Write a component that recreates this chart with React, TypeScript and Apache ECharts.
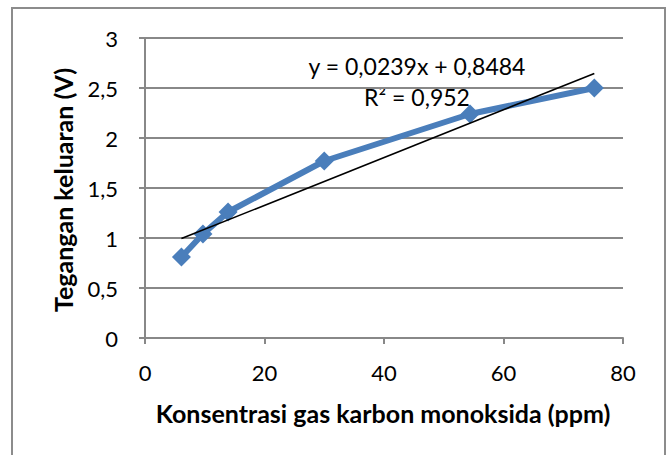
import React, { useEffect, useRef } from "react";
import * as echarts from "echarts";

const concentration = [6.1, 9.7, 13.9, 30.0, 54.4, 75.2];
const voltage = [0.81, 1.04, 1.26, 1.77, 2.24, 2.5];
const slope = 0.0239;
const intercept = 0.8484;
const equationText = "y = 0,0239x + 0,8484";
const r2Text = "R² = 0,952";
const xTitle = "Konsentrasi gas karbon monoksida (ppm)";
const yTitle = "Tegangan keluaran (V)";

const FONT = "Lato, 'Open Sans', sans-serif";

export default function App() {
  const ref = useRef<HTMLDivElement>(null);
  useEffect(() => {
    const chart = echarts.init(ref.current!, null, { renderer: "svg" });
    const pts = concentration.map((x, i) => [x, voltage[i]]);
    const x0 = concentration[0];
    const x1 = concentration[concentration.length - 1];
    const trend = [
      [x0, slope * x0 + intercept],
      [x1, slope * x1 + intercept],
    ];
    chart.setOption({
      animation: false,
      backgroundColor: "#fff",
      grid: { left: 145, right: 45, top: 38, bottom: 117 },
      xAxis: {
        type: "value",
        min: 0,
        max: 80,
        interval: 20,
        axisLine: { show: true, lineStyle: { color: "#888", width: 2 } },
        axisTick: { show: true, length: 6, lineStyle: { color: "#888", width: 2 } },
        axisLabel: { color: "#000", fontSize: 22, fontFamily: FONT, margin: 23 },
        splitLine: { show: false },
      },
      yAxis: {
        type: "value",
        min: 0,
        max: 3,
        interval: 0.5,
        axisLine: { show: true, lineStyle: { color: "#888", width: 2 } },
        axisTick: { show: true, length: 6, lineStyle: { color: "#888", width: 2 } },
        axisLabel: {
          color: "#000",
          fontSize: 22,
          fontFamily: FONT,
          margin: 27,
          formatter: (v: number) => String(v).replace(".", ","),
        },
        splitLine: { show: true, lineStyle: { color: "#888", width: 2 } },
      },
      series: [
        {
          type: "line",
          data: pts,
          symbol: "diamond",
          symbolSize: 19,
          lineStyle: { color: "#4a7ebb", width: 6 },
          itemStyle: { color: "#4a7ebb" },
          z: 2,
        },
        {
          type: "line",
          data: trend,
          symbol: "none",
          lineStyle: { color: "#000", width: 1.6 },
          z: 3,
        },
      ],
      graphic: [
        {
          type: "rect",
          shape: { x: 12, y: 8, width: 653, height: 470 },
          style: { fill: "none", stroke: "#8c8c8c", lineWidth: 2 },
          silent: true,
        },
        {
          type: "text",
          x: 417,
          y: 66,
          style: { text: equationText, font: `23px ${FONT}`, fill: "#000", align: "center", verticalAlign: "middle" },
        },
        {
          type: "text",
          x: 417,
          y: 97,
          style: { text: r2Text, font: `23px ${FONT}`, fill: "#000", align: "center", verticalAlign: "middle" },
        },
        {
          type: "text",
          x: 383,
          y: 413,
          style: { text: xTitle, font: `bold 25px ${FONT}`, fill: "#000", align: "center", verticalAlign: "middle" },
        },
        {
          type: "text",
          x: 63,
          y: 190,
          rotation: Math.PI / 2,
          style: { text: yTitle, font: `bold 25px ${FONT}`, fill: "#000", align: "center", verticalAlign: "middle" },
        },
      ],
    });
    return () => chart.dispose();
  }, []);
  return (
    <div
      ref={ref}
      style={{ position: "fixed", left: 0, top: 0, width: 668, height: 455 }}
    />
  );
}
